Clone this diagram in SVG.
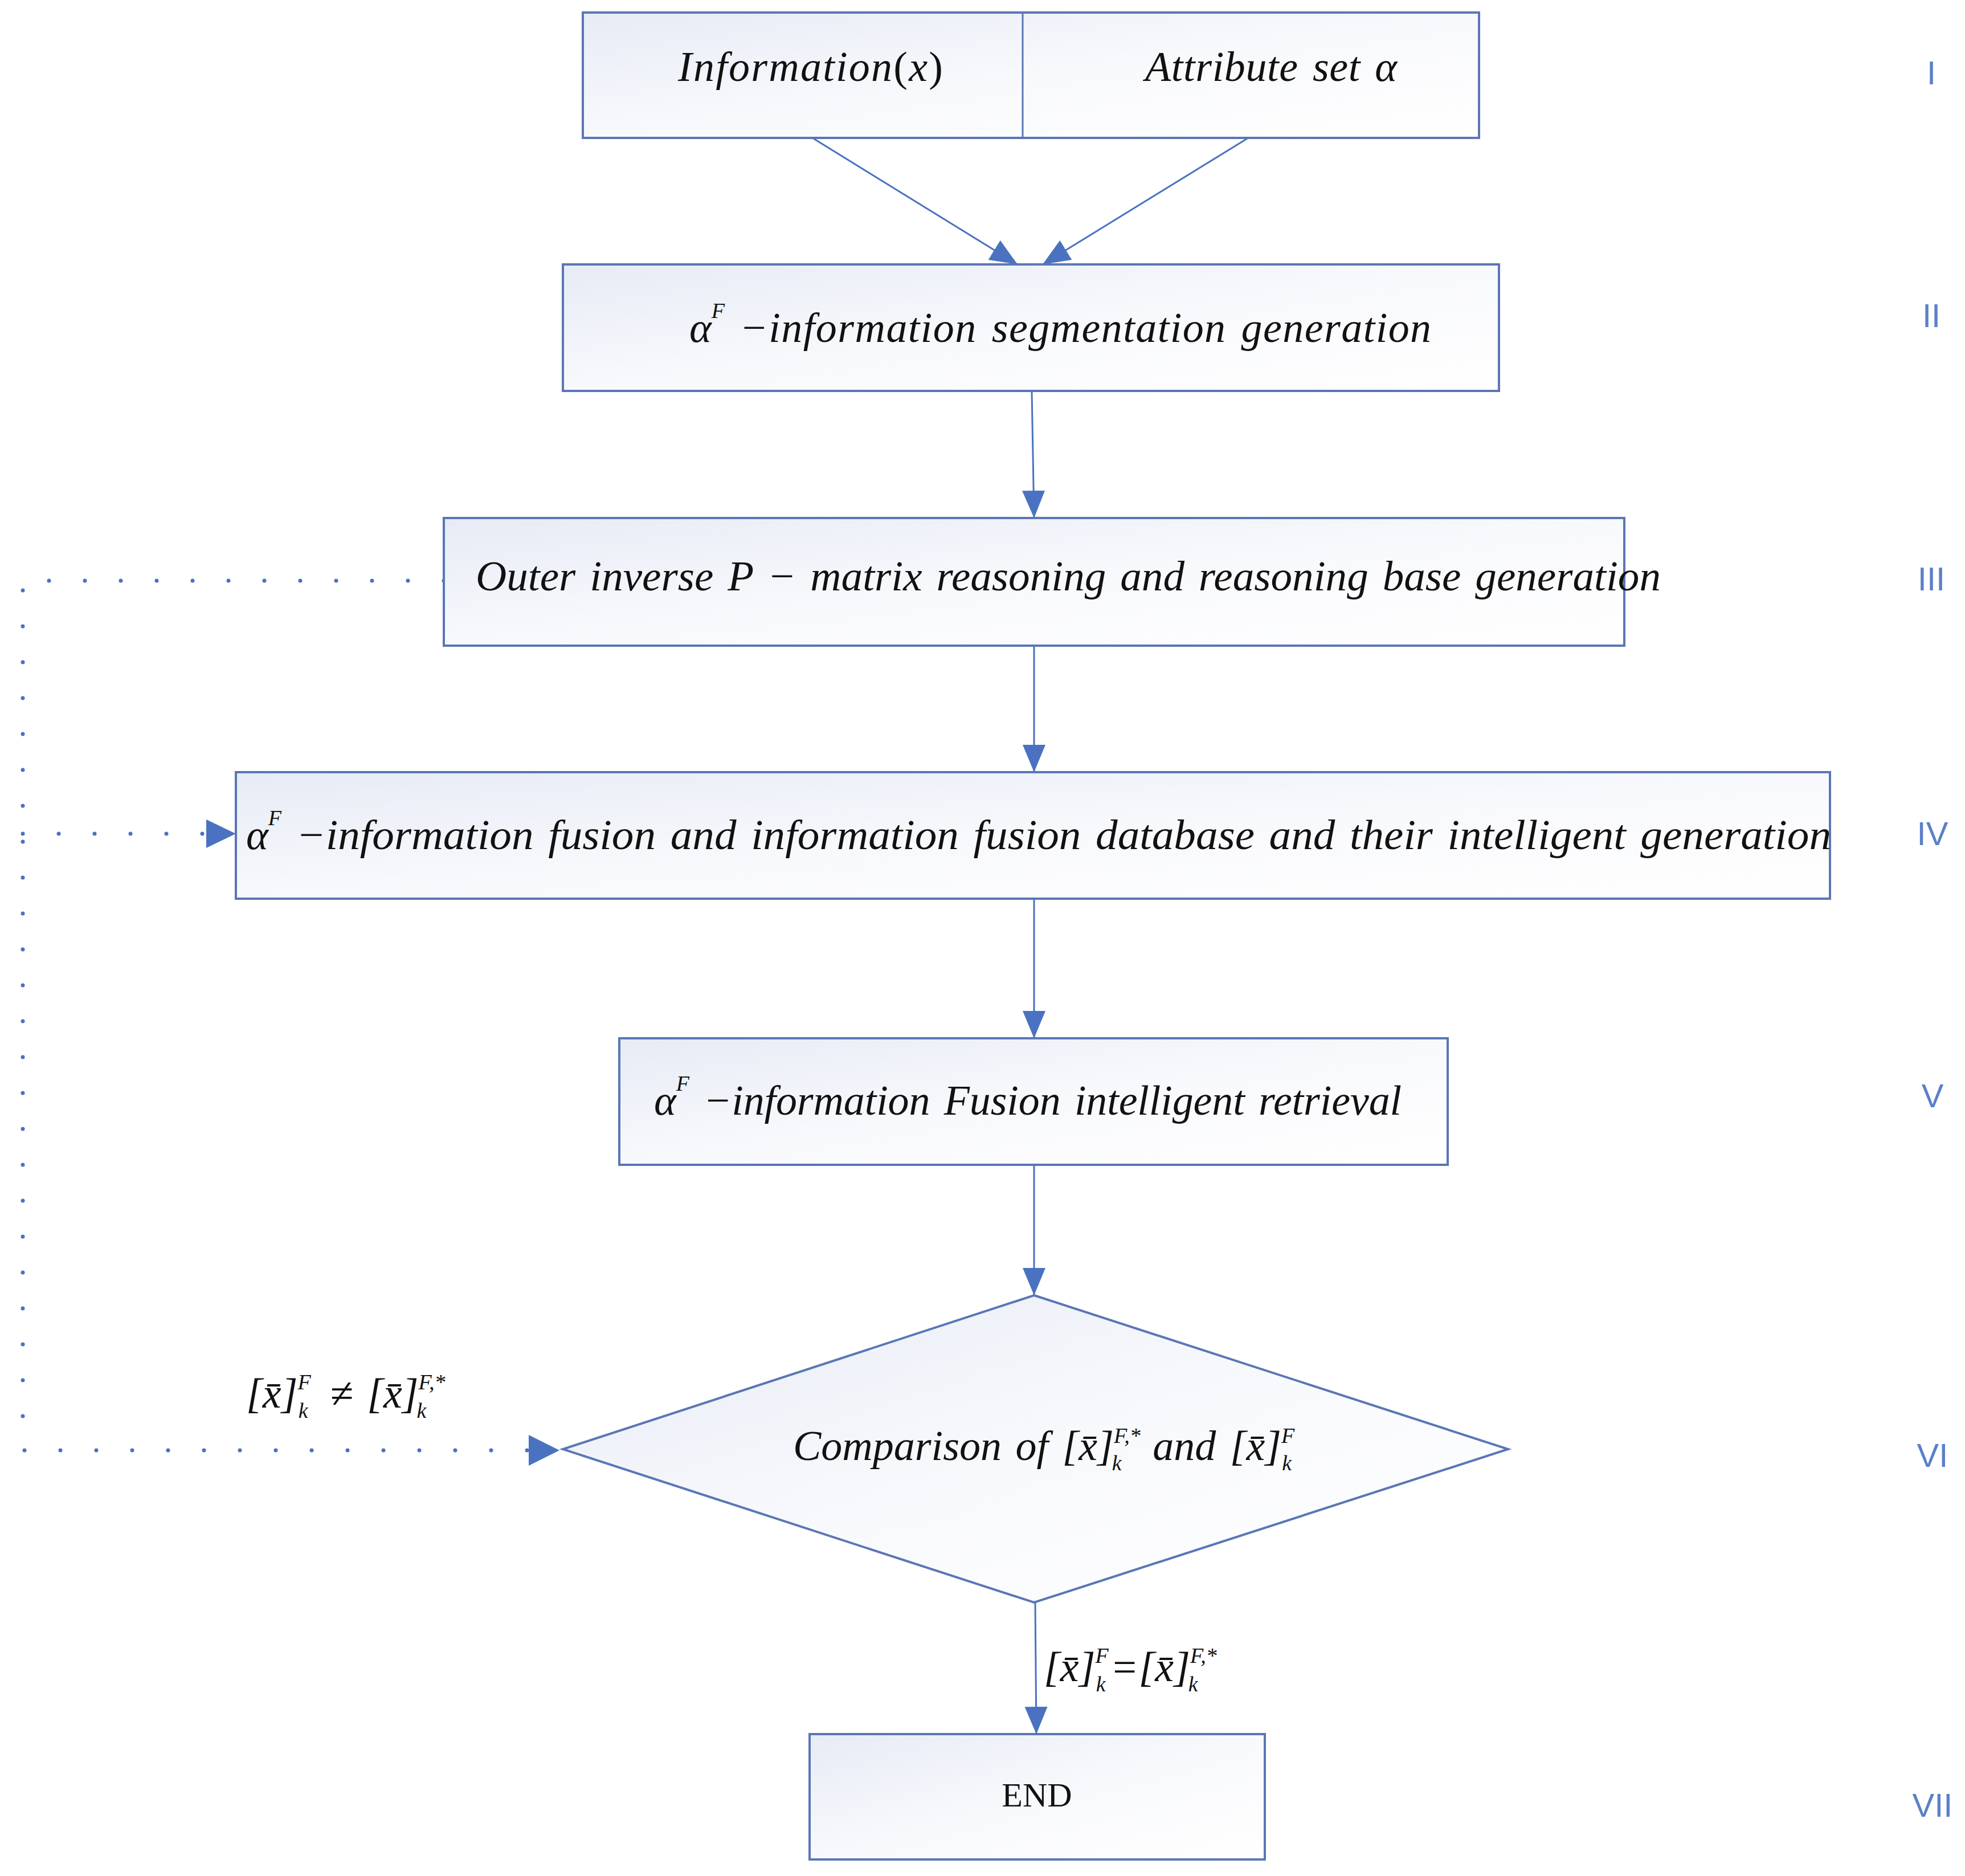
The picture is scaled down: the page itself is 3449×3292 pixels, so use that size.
<svg xmlns="http://www.w3.org/2000/svg" width="3449" height="3292" viewBox="0 0 3449 3292">
<style>
.box{fill:url(#g);stroke:#5a76b5;stroke-width:4}
.t{font-family:"Liberation Serif",serif;font-style:italic;font-size:66px;fill:#111}
.b{font-size:74px;word-spacing:6px}
.s{font-family:"Liberation Serif",serif;font-style:italic;font-size:38px;fill:#111}
.m{font-family:"Liberation Serif",serif;font-size:60px;fill:#111}
.r{font-family:"Liberation Sans",sans-serif;font-size:58px;fill:#5b80c8}
.c{stroke:#4a72c0;stroke-width:3;fill:none}
.d{stroke:#4a72c0;stroke-width:7;fill:none;stroke-dasharray:0 63;stroke-linecap:round}
</style>
<defs>
<linearGradient id="g" x1="0" y1="0" x2="1" y2="1"><stop offset="0" stop-color="#e6ebf5"/><stop offset="0.5" stop-color="#f8f9fc"/><stop offset="1" stop-color="#ffffff"/></linearGradient>
<marker id="A" viewBox="0 0 10 10" refX="10" refY="5" markerWidth="48" markerHeight="40" orient="auto" markerUnits="userSpaceOnUse" preserveAspectRatio="none"><path d="M0,0L10,5L0,10z" fill="#4a72c0"/></marker>
</defs>
<rect width="3449" height="3292" fill="#fff"/>
<g id="connectors">
<line class="c" x1="1426" y1="242" x2="1786" y2="464" marker-end="url(#A)"/>
<line class="c" x1="2191" y1="242" x2="1830" y2="464" marker-end="url(#A)"/>
<line class="c" x1="1811" y1="686" x2="1815" y2="909" marker-end="url(#A)"/>
<line class="c" x1="1815" y1="1133" x2="1815" y2="1355" marker-end="url(#A)"/>
<line class="c" x1="1815" y1="1577" x2="1815" y2="1822" marker-end="url(#A)"/>
<line class="c" x1="1815" y1="2044" x2="1815" y2="2273" marker-end="url(#A)"/>
<line class="c" x1="1817" y1="2812" x2="1819" y2="3043" marker-end="url(#A)"/>
<polyline class="d" points="779,1019 40,1019 40,2545 930,2545"/>
<line class="d" x1="40" y1="1463" x2="360" y2="1463"/>
<path d="M362,1438L414,1463L362,1488z" fill="#4a72c0"/>
<path d="M928,2518L982,2545L928,2572z" fill="#4a72c0"/>
</g>
<g id="n1">
<rect class="box" x="1023" y="22" width="1573" height="220"/>
<line x1="1795" y1="22" x2="1795" y2="242" stroke="#5a76b5" stroke-width="3"/>
<text class="t b" x="1190" y="142" textLength="465" lengthAdjust="spacing">Information<tspan font-style="normal">(</tspan>x<tspan font-style="normal">)</tspan></text>
<text class="t b" x="2010" y="142" textLength="442" lengthAdjust="spacing">Attribute set α</text>
</g>
<g id="n2"><rect class="box" x="988" y="464" width="1643" height="222"/>
<text class="t b" x="1210" y="600">α<tspan class="s" dy="-42">F</tspan><tspan dy="42" textLength="1240" lengthAdjust="spacing"> −information segmentation generation</tspan></text></g>
<g id="n3"><rect class="box" x="779" y="909" width="2072" height="224"/>
<text class="t b" x="835" y="1036" textLength="2080" lengthAdjust="spacingAndGlyphs">Outer inverse P − matrix reasoning and reasoning base generation</text></g>
<g id="n4"><rect class="box" x="414" y="1355" width="2798" height="222"/>
<text class="t b" x="432" y="1490">α<tspan class="s" dy="-42">F</tspan><tspan dy="42" textLength="2720" lengthAdjust="spacingAndGlyphs"> −information fusion and information fusion database and their intelligent generation</tspan></text></g>
<g id="n5"><rect class="box" x="1087" y="1822" width="1454" height="222"/>
<text class="t b" x="1148" y="1956">α<tspan class="s" dy="-42">F</tspan><tspan dy="42" textLength="1250" lengthAdjust="spacing"> −information Fusion intelligent retrieval</tspan></text></g>
<g id="n6"><polygon class="box" points="1815,2273 2647,2543 1815,2812 988,2543"/>
<text class="t b" x="1392" y="2562">Comparison of [x̄]<tspan class="s" dy="-30">F,*</tspan><tspan class="s" dx="-50" dy="48">k</tspan><tspan dx="30" dy="-18"> and [x̄]</tspan><tspan class="s" dy="-30">F</tspan><tspan class="s" dx="-22" dy="48">k</tspan></text></g>
<g id="n7"><rect class="box" x="1421" y="3043" width="799" height="220"/>
<text class="m" x="1820" y="3170" text-anchor="middle">END</text></g>
<g id="labels">
<text class="t b" x="432" y="2470">[x̄]<tspan class="s" dy="-32">F</tspan><tspan class="s" dx="-22" dy="50">k</tspan><tspan dx="14" dy="-18"> ≠ [x̄]</tspan><tspan class="s" dy="-32">F,*</tspan><tspan class="s" dx="-50" dy="50">k</tspan></text>
<text class="t b" x="1832" y="2950">[x̄]<tspan class="s" dy="-32">F</tspan><tspan class="s" dx="-22" dy="50">k</tspan><tspan dx="8" dy="-18">=[x̄]</tspan><tspan class="s" dy="-32">F,*</tspan><tspan class="s" dx="-50" dy="50">k</tspan></text>
<text class="r" x="3390" y="148" text-anchor="middle">I</text>
<text class="r" x="3390" y="574" text-anchor="middle">II</text>
<text class="r" x="3390" y="1036" text-anchor="middle">III</text>
<text class="r" x="3392" y="1483" text-anchor="middle">IV</text>
<text class="r" x="3392" y="1943" text-anchor="middle">V</text>
<text class="r" x="3392" y="2574" text-anchor="middle">VI</text>
<text class="r" x="3392" y="3188" text-anchor="middle">VII</text>
</g>
</svg>
